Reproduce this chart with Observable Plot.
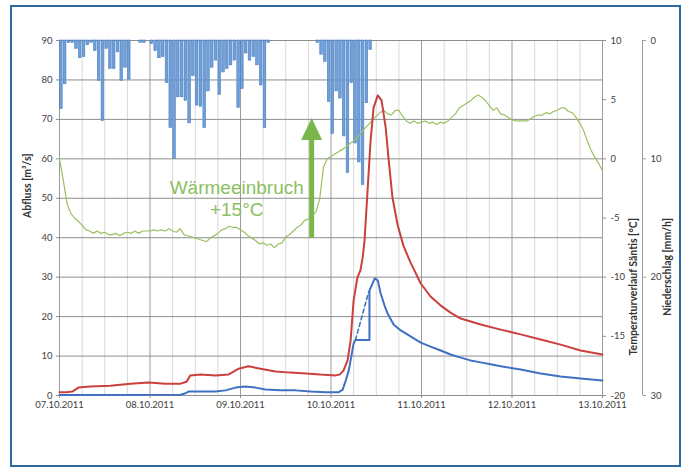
<!DOCTYPE html>
<html><head><meta charset="utf-8">
<script src="https://cdn.jsdelivr.net/npm/d3@7"></script>
<script src="https://cdn.jsdelivr.net/npm/@observablehq/plot@0.6"></script>
<style>
body{margin:0;background:#fff;}
#wrap{position:relative;width:689px;height:475px;}
#border{position:absolute;left:10px;top:5px;width:667px;height:458px;border:2px solid #2d6aa0;pointer-events:none;}
</style></head><body><div id="wrap"><div id="border"></div></div>
<script>
// ---- data (hours counted from 07.10.2011 00:00) ----
const dateLabels = ["07.10.2011","08.10.2011","09.10.2011","10.10.2011","11.10.2011","12.10.2011","13.10.2011"];
const flowTicks = [0,10,20,30,40,50,60,70,80,90];
const tempTicks = [-20,-15,-10,-5,0,5,10];
const precipTicks = [0,10,20,30];

// hourly precipitation [mm/h], index = hour
const precip = [5.8,3.7,0.2,0.2,0.7,1.5,1.4,0.4,0.2,0.9,3.4,6.8,0.7,2.4,2.4,1.0,3.4,2.3,3.3,0,
  0,0.2,0.2,0,0.3,0.9,1.5,1.4,3.6,7.4,10.0,4.8,4.8,5.1,7.0,3.0,5.5,5.6,7.4,4.3,
  2.3,1.7,4.6,2.7,2.4,2.1,1.7,5.7,4.1,1.1,1.7,1.4,2.1,3.8,7.4,0.2,
  0,0,0,0,0,0,0,0,0,0,0,0,
  0.2,1.2,1.8,5.2,7.9,4.3,4.9,8.1,11.2,3.6,8.7,10.3,12.2,5.3,0.8];

// hourly temperature Säntis [°C], index = hour
const temp = [0.0,-1.8,-3.8,-4.6,-5.0,-5.3,-5.6,-6.0,-6.1,-6.3,
  -6.1,-6.3,-6.2,-6.4,-6.4,-6.3,-6.5,-6.3,-6.2,-6.3,
  -6.1,-6.3,-6.1,-6.1,-6.1,-6.0,-6.1,-6.0,-6.1,-5.9,
  -6.1,-6.2,-5.9,-6.4,-6.5,-6.6,-6.7,-6.8,-6.9,-7.0,
  -6.7,-6.5,-6.3,-6.0,-5.9,-5.7,-5.8,-5.8,-6.0,-6.2,
  -6.5,-6.7,-6.9,-7.2,-7.1,-7.3,-7.2,-7.5,-7.2,-7.1,
  -6.6,-6.4,-6.1,-5.8,-5.6,-5.2,-5.1,-4.8,-4.5,-3.4,
  -0.7,0.0,0.2,0.4,0.6,0.8,1.0,1.3,1.5,1.8,
  2.2,2.6,2.9,3.3,3.6,3.9,4.1,3.8,3.7,4.1,
  4.1,3.6,3.2,3.0,3.2,3.0,3.1,3.2,3.0,3.1,
  2.9,3.1,3.0,3.2,3.5,3.8,4.3,4.5,4.7,4.9,
  5.2,5.4,5.2,4.9,4.5,4.1,4.3,3.8,3.7,3.5,
  3.3,3.2,3.2,3.2,3.2,3.4,3.6,3.7,3.7,3.9,
  3.8,4.0,4.1,4.3,4.3,4.0,3.9,3.5,3.0,2.4,
  1.5,0.7,0.1,-0.4,-1.0];

// discharge, red series
const redHours = [0,1.9,3.4,5,8.2,13.5,18.8,23.6,28.1,32.1,33.7,34.7,37.4,41.4,44.8,47.5,50.1,53.3,57.3,61.3,
  65.3,69.2,73.2,74.3,75.3,76.4,77.2,78,79,79.8,80.4,80.9,81.7,82.5,83.3,84.4,85.4,86.5,87.3,88.3,
  89.7,91.2,93.1,95.8,98.4,101.1,103.7,106.4,111.7,117,122.3,127.6,132.9,138.2,144];
const redFlow = [0.8,0.8,1.0,2.0,2.3,2.5,3.0,3.3,3.0,3.0,3.5,5.1,5.3,5.1,5.3,6.8,7.4,6.8,6.1,5.8,
  5.6,5.3,5.1,5.3,6.3,8.9,13.9,24.1,29.9,31.7,35.0,39.3,52.0,64.7,73.0,76.1,74.8,68.0,59.6,50.2,
  43.1,38.0,33.7,28.4,25.1,22.8,21.0,19.5,18.0,16.7,15.5,14.2,12.9,11.4,10.4];

// discharge, blue series
const blueHours = [0,32.1,33.2,34.2,37.4,41.4,44,46.7,49.3,52,54.6,58.6,62.6,66.6,70.6,74,75.1,75.9,76.7,77.2,
  78,78.5,82.2,82.2,83.6,84.4,85.1,86.2,87,88.6,90.5,93.1,95.8,98.4,101.1,103.7,106.4,109,111.7,114.3,
  117,122.3,127.6,132.9,138.2,144];
const blueFlow = [0.1,0.2,0.5,1.0,1.0,1.0,1.3,2.0,2.3,2.0,1.5,1.3,1.3,1.0,0.8,0.8,1.5,3.8,6.3,8.9,
  13.2,14.1,14.1,26.6,29.7,29.2,26.1,22.8,20.8,18.0,16.5,15.0,13.4,12.4,11.4,10.4,9.6,8.9,8.4,7.9,
  7.4,6.6,5.6,4.8,4.3,3.8];

// blue dashed estimate
const dashHours = [78.5, 82.0];
const dashFlow = [14.1, 26.3];

// annotation
const noteLines = ["Wärmeeinbruch", "+15°C"];
const noteHour = 47;
const noteFlow = [51.2, 45.6];
const arrowHour = 67;
const arrowFrom = 39.8;
const arrowTo = 70.2;

// ---- helpers ----
const T0 = Date.UTC(2011, 9, 7);
const at = h => new Date(T0 + h * 3600000);
const tempToY = t => (t + 20) * 3;        // -20..10 -> 0..90
const precipToY = p => 90 - p * 3;        // 0..30 -> 90..0

const precipRows = precip.map((p, h) => ({h, p})).filter(d => d.p > 0);
const tempRows = temp.map((t, h) => ({h, t}));
const redRows = redHours.map((h, i) => ({h, q: redFlow[i]}));
const blueRows = blueHours.map((h, i) => ({h, q: blueFlow[i]}));
const dashRows = dashHours.map((h, i) => ({h, q: dashFlow[i]}));
const dayTicks = d3.range(0, 145, 24).map(at);
const sixTicks = d3.range(0, 145, 6).filter(h => h % 24).map(at);

const arrowColor = "#7bb64a";
function arrowMark(index, scales) {
  const g = d3.create("svg:g");
  const x = scales.x(at(arrowHour));
  const yb = scales.y(arrowFrom), yt = scales.y(arrowTo);
  const headH = 22, headW = 21, shaft = 5;
  g.append("rect").attr("x", x - shaft / 2).attr("y", yt + headH - 1)
    .attr("width", shaft).attr("height", yb - yt - headH + 1).attr("fill", arrowColor);
  g.append("path").attr("d", `M${x},${yt}L${x + headW / 2},${yt + headH}L${x - headW / 2},${yt + headH}Z`)
    .attr("fill", arrowColor);
  return g.node();
}

const titleStyle = {fontSize: 10.5, fontWeight: "bold", fill: "#333", rotate: -90};

const chart = Plot.plot({
  width: 689, height: 475,
  marginLeft: 59, marginRight: 87, marginTop: 40, marginBottom: 80,
  style: {fontFamily: "Lato, 'Open Sans', sans-serif", fontSize: "9.5px", color: "#404040", background: "transparent"},
  x: {type: "utc", domain: [at(0), at(144)]},
  y: {domain: [0, 90]},
  marks: [
    Plot.ruleX(sixTicks, {stroke: "#d8d8d8"}),
    Plot.ruleX(dayTicks, {stroke: "#9c9c9c"}),
    Plot.ruleY(flowTicks, {stroke: "#8e8e8e"}),
    Plot.rect(precipRows, {x1: d => at(d.h), x2: d => at(d.h + 1), y1: 90, y2: d => precipToY(d.p),
      fill: "#6fa0da", stroke: "#4a7cbf", strokeWidth: 0.6, insetLeft: 0.6, insetRight: 0.6}),
    Plot.line(tempRows, {x: d => at(d.h), y: d => tempToY(d.t), stroke: "#9bc063", strokeWidth: 1.2}),
    Plot.line(redRows, {x: d => at(d.h), y: "q", stroke: "#c9403d", strokeWidth: 2}),
    Plot.line(blueRows, {x: d => at(d.h), y: "q", stroke: "#3f70c2", strokeWidth: 2}),
    Plot.line(dashRows, {x: d => at(d.h), y: "q", stroke: "#3f70c2", strokeWidth: 1.6, strokeDasharray: "4,3"}),
    arrowMark,
    Plot.text([0, 1], {x: () => at(noteHour), y: i => noteFlow[i], text: i => noteLines[i],
      fontSize: 19, fill: "#8bc062", fontFamily: "'Liberation Sans', Arial, sans-serif", lineAnchor: "bottom"}),
    Plot.axisY(flowTicks, {anchor: "left", tickSize: 3, tickPadding: 4, label: null, stroke: "#8e8e8e"}),
    Plot.axisY(tempTicks.map(tempToY), {anchor: "right", tickSize: 3, tickPadding: 5, label: null, stroke: "#8e8e8e",
      tickFormat: v => String(Math.round(v / 3 - 20))}),
    Plot.ruleX([at(144)], {dx: 40, stroke: "#9c9c9c"}),
    Plot.axisY(precipTicks.map(precipToY), {anchor: "right", dx: 40, tickSize: 3, tickPadding: 5, label: null, stroke: "#9c9c9c",
      tickFormat: v => String(Math.round((90 - v) / 3))}),
    Plot.axisX(dayTicks, {tickSize: 3, tickPadding: 3, label: null, stroke: "#8e8e8e",
      tickFormat: d => dateLabels[dayTicks.findIndex(t => +t === +d)]}),
    Plot.text(["Abfluss [m³/s]"], {frameAnchor: "left", dx: -32, ...titleStyle}),
    Plot.text(["Temperaturverlauf Säntis [°C]"], {frameAnchor: "right", dx: 31, ...titleStyle}),
    Plot.text(["Niederschlag [mm/h]"], {frameAnchor: "right", dx: 65, ...titleStyle})
  ]
});
document.getElementById("wrap").prepend(chart);
</script>
</body></html>
